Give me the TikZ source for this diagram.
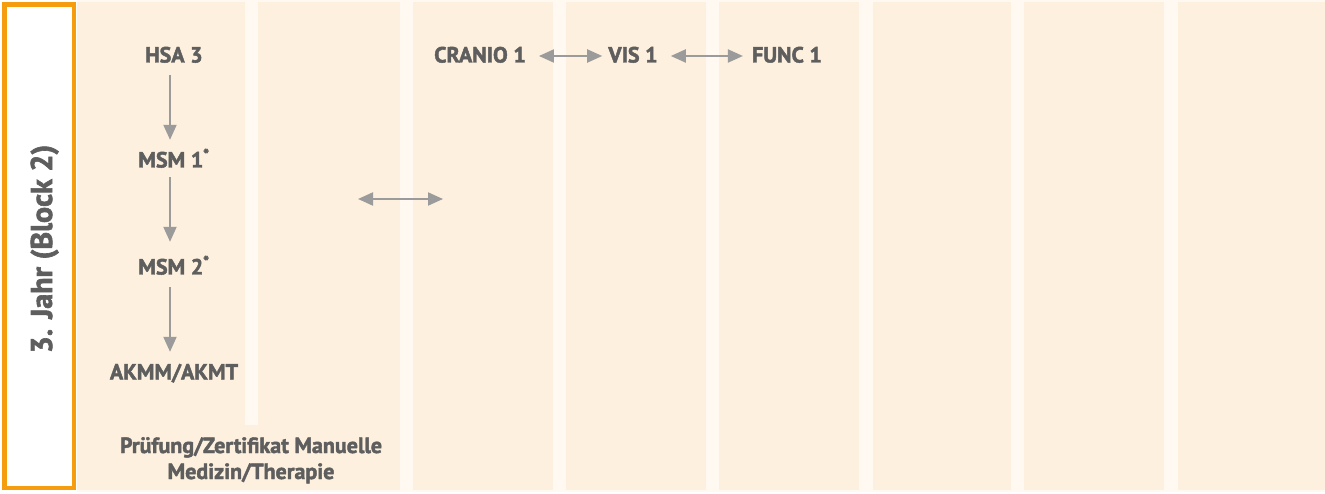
\documentclass[tikz,border=0pt]{standalone}
\usepackage{fontspec}
\setmainfont{PT Sans}[BoldFeatures={FakeBold=2}]
\usetikzlibrary{arrows.meta}
\definecolor{cream}{HTML}{FDF0DE}
\definecolor{stripe}{HTML}{FFF9F2}
\definecolor{txtgray}{HTML}{5E5E5E}
\definecolor{arrgray}{HTML}{9B9B9B}
\definecolor{orgc}{HTML}{F59D0E}
\begin{document}
\begin{tikzpicture}[x=1pt,y=-1pt,
  lbl/.style={font=\bfseries\fontsize{22}{26}\selectfont, text=txtgray, inner sep=0pt, text height=13pt, text depth=0pt, align=center},
  arr/.style={draw=arrgray, line width=2pt, -{Triangle[length=15pt,width=13pt]}},
  darr/.style={draw=arrgray, line width=2pt, {Triangle[length=15pt,width=13pt]}-{Triangle[length=15pt,width=13pt]}},
]
\useasboundingbox (0,0) rectangle (1325,494);
\fill[white] (0,0) rectangle (1325,494);
\fill[stripe] (77,0) rectangle (1325,492);
\foreach \a/\b in {77/245, 258/400, 413/553, 566/706, 719/859, 873/1011, 1024/1164, 1178/1325}
  \fill[cream] (\a,2) rectangle (\b,490);
\fill[cream] (244,425) rectangle (259,490);

% year box
\draw[orgc, line width=4.6pt] (4.3,4.3) rectangle (74,488);
\node[rotate=90, anchor=base, font=\bfseries\fontsize{30}{32}\selectfont, text=txtgray, inner sep=0pt] (year) at (52,249) {3. Jahr (Block 2)};

% left column
\coordinate (ax) at (170,0);
\node[lbl] (hsa) at (174,56) {HSA 3};
\node[lbl] (msm1) at (174,161) {MSM 1\textsuperscript{*}};
\node[lbl] (msm2) at (174,268) {MSM 2\textsuperscript{*}};
\node[lbl] (akmm) at (174,373) {AKMM/AKMT};
\node[lbl, text height=, text depth=, anchor=base] (pruef) at (251,479) {Prüfung/Zertifikat Manuelle\\Medizin/Therapie};

\draw[arr, shorten <=12.5pt, shorten >=14.5pt] (hsa.south -| ax) -- (msm1.north -| ax);
\draw[arr, shorten <=9.5pt, shorten >=19.5pt] (msm1.south -| ax) -- (msm2.north -| ax);
\draw[arr, shorten <=12.5pt, shorten >=14.5pt] (msm2.south -| ax) -- (akmm.north -| ax);

% middle free arrow
\coordinate (m1) at (358,199);
\coordinate (m2) at (443,199);
\draw[darr] (m1) -- (m2);

% top row
\node[lbl, minimum width=86pt] (cranio) at (480,56) {CRANIO 1};
\node[lbl, minimum width=43pt] (vis) at (633,56) {VIS 1};
\node[lbl, minimum width=64pt] (func) at (787,56) {FUNC 1};
\draw[darr, shorten <=13pt, shorten >=6pt] (cranio.east) -- (vis.west);
\draw[darr, shorten <=13pt, shorten >=9pt] (vis.east) -- (func.west);
\end{tikzpicture}
\end{document}
